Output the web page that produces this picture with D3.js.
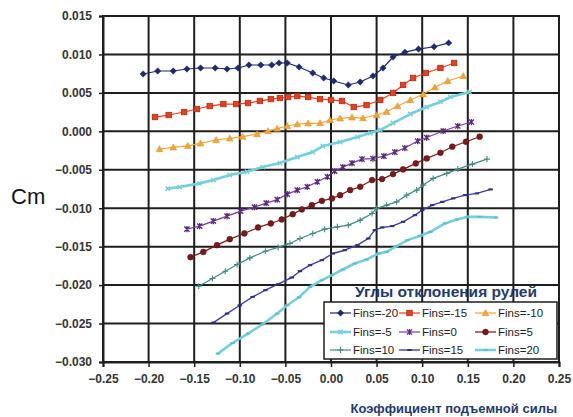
<!DOCTYPE html>
<html>
<head>
<meta charset="utf-8">
<script src="https://cdn.jsdelivr.net/npm/d3@7/dist/d3.min.js"></script>
<style>
  html, body { margin: 0; padding: 0; background: #ffffff; }
  svg { display: block; }
</style>
</head>
<body>
<script>
// Pitching-moment coefficient Cm vs lift coefficient for several fin deflections
const finAngles = [-20, -15, -10, -5, 0, 5, 10, 15, 20];
const xTicks = [-0.25, -0.20, -0.15, -0.10, -0.05, 0.00, 0.05, 0.10, 0.15, 0.20, 0.25];
const yTicks = [0.015, 0.010, 0.005, 0.000, -0.005, -0.010, -0.015, -0.020, -0.025, -0.030];

const clM20 = [-0.206,-0.190,-0.173,-0.158,-0.143,-0.127,-0.114,-0.102,-0.090,-0.077,-0.065,-0.057,-0.048,-0.035,-0.020,-0.008,0.003,0.019,0.032,0.046,0.057,0.068,0.081,0.096,0.113,0.129];
const cmM20 = [0.00746,0.00785,0.00785,0.00811,0.00824,0.00824,0.00811,0.00824,0.00863,0.00863,0.00863,0.00889,0.00889,0.00837,0.00759,0.00694,0.00655,0.00603,0.00642,0.00720,0.00824,0.00967,0.01030,0.01070,0.01100,0.01150];

const clM15 = [-0.193,-0.178,-0.161,-0.147,-0.133,-0.118,-0.104,-0.091,-0.078,-0.066,-0.056,-0.047,-0.037,-0.025,-0.012,0.000,0.012,0.025,0.039,0.054,0.068,0.079,0.090,0.104,0.120,0.135];
const cmM15 = [0.00186,0.00212,0.00251,0.00290,0.00329,0.00355,0.00355,0.00368,0.00395,0.00420,0.00433,0.00446,0.00459,0.00446,0.00420,0.00408,0.00395,0.00316,0.00342,0.00408,0.00499,0.00603,0.00694,0.00759,0.00824,0.00889];

const clM10 = [-0.188,-0.173,-0.157,-0.143,-0.126,-0.111,-0.097,-0.081,-0.069,-0.059,-0.048,-0.037,-0.025,-0.012,-0.001,0.010,0.023,0.035,0.050,0.061,0.073,0.087,0.101,0.114,0.128,0.145];
const cmM10 = [-0.00230,-0.00208,-0.00188,-0.00156,-0.00113,-0.00091,-0.00068,-0.00035,0.00004,0.00036,0.00069,0.00095,0.00104,0.00108,0.00147,0.00169,0.00182,0.00173,0.00212,0.00255,0.00329,0.00408,0.00482,0.00573,0.00655,0.00720];

const clM5 = [-0.179,-0.166,-0.144,-0.129,-0.111,-0.092,-0.075,-0.056,-0.037,-0.020,-0.009,0.010,0.029,0.043,0.054,0.068,0.087,0.105,0.120,0.131,0.152];
const cmM5 = [-0.00745,-0.00725,-0.00677,-0.00634,-0.00569,-0.00526,-0.00465,-0.00413,-0.00335,-0.00270,-0.00191,-0.00139,-0.00074,-0.00022,0.00017,0.00108,0.00225,0.00316,0.00382,0.00447,0.00512];

const clP0 = [-0.158,-0.144,-0.129,-0.114,-0.099,-0.084,-0.071,-0.059,-0.048,-0.037,-0.026,-0.015,-0.004,0.004,0.013,0.023,0.034,0.046,0.058,0.070,0.081,0.095,0.105,0.123,0.139,0.154];
const cmP0 = [-0.01272,-0.01233,-0.01168,-0.01103,-0.01038,-0.00986,-0.00933,-0.00888,-0.00816,-0.00764,-0.00721,-0.00656,-0.00591,-0.00517,-0.00465,-0.00413,-0.00361,-0.00354,-0.00322,-0.00270,-0.00217,-0.00126,-0.00081,0.00004,0.00069,0.00121];

const clP5 = [-0.154,-0.140,-0.125,-0.111,-0.095,-0.080,-0.066,-0.054,-0.042,-0.032,-0.021,-0.010,0.001,0.010,0.021,0.032,0.045,0.056,0.068,0.079,0.093,0.105,0.120,0.133,0.148,0.163];
const cmP5 = [-0.01637,-0.01568,-0.01480,-0.01402,-0.01328,-0.01250,-0.01198,-0.01146,-0.01077,-0.01016,-0.00960,-0.00904,-0.00872,-0.00830,-0.00764,-0.00721,-0.00634,-0.00621,-0.00556,-0.00495,-0.00417,-0.00352,-0.00279,-0.00200,-0.00135,-0.00070];

const clP10 = [-0.145,-0.130,-0.116,-0.103,-0.089,-0.072,-0.058,-0.045,-0.034,-0.020,-0.007,0.007,0.019,0.032,0.045,0.050,0.061,0.072,0.083,0.094,0.101,0.112,0.127,0.139,0.155,0.171];
const cmP10 = [-0.02014,-0.01914,-0.01819,-0.01732,-0.01646,-0.01559,-0.01510,-0.01458,-0.01393,-0.01328,-0.01272,-0.01242,-0.01220,-0.01155,-0.01068,-0.01003,-0.00960,-0.00917,-0.00830,-0.00764,-0.00699,-0.00612,-0.00547,-0.00491,-0.00426,-0.00361];

const clP15 = [-0.129,-0.114,-0.100,-0.086,-0.072,-0.058,-0.043,-0.034,-0.023,-0.010,0.002,0.015,0.029,0.041,0.048,0.056,0.067,0.079,0.092,0.100,0.111,0.122,0.134,0.147,0.160,0.175];
const cmP15 = [-0.02487,-0.02370,-0.02262,-0.02154,-0.02066,-0.01988,-0.01901,-0.01819,-0.01741,-0.01676,-0.01589,-0.01546,-0.01480,-0.01393,-0.01285,-0.01250,-0.01233,-0.01177,-0.01090,-0.01025,-0.00960,-0.00917,-0.00872,-0.00830,-0.00807,-0.00755];

const clP20 = [-0.124,-0.108,-0.091,-0.075,-0.059,-0.048,-0.035,-0.023,-0.010,0.001,0.013,0.026,0.039,0.052,0.061,0.072,0.084,0.098,0.109,0.125,0.138,0.150,0.163,0.181];
const cmP20 = [-0.02891,-0.02753,-0.02630,-0.02509,-0.02370,-0.02262,-0.02158,-0.02023,-0.01936,-0.01871,-0.01797,-0.01719,-0.01667,-0.01589,-0.01568,-0.01493,-0.01415,-0.01357,-0.01307,-0.01198,-0.01146,-0.01112,-0.01112,-0.01120];

const seriesX = [clM20, clM15, clM10, clM5, clP0, clP5, clP10, clP15, clP20];
const seriesY = [cmM20, cmM15, cmM10, cmM5, cmP0, cmP5, cmP10, cmP15, cmP20];

// Per-series appearance
const styles = [
  { color: "#1d2a6b", width: 1.2, marker: "diamond", size: 3.2, stroke: "#1d2a6b" },
  { color: "#e8401f", width: 1.2, marker: "square",  size: 3.2, stroke: "#b02a12" },
  { color: "#f2a638", width: 1.2, marker: "triangle",size: 3.4, stroke: "#e08a20" },
  { color: "#72d0dc", width: 2.6, marker: "times",   size: 2.2, stroke: "#72d0dc" },
  { color: "#7b3d9d", width: 1.2, marker: "star",    size: 2.6, stroke: "#5a2a78" },
  { color: "#7a1a1a", width: 1.2, marker: "circle",  size: 3.4, stroke: "#5a1010" },
  { color: "#3f8a80", width: 1.2, marker: "plus",    size: 3,   stroke: "#3f8a80" },
  { color: "#3d3fa0", width: 1.4, marker: "dash",    size: 2.2, stroke: "#2a2c80" },
  { color: "#72d0dc", width: 2.6, marker: "dash",    size: 2.2, stroke: "#5fbfcc" }
];

const W = 573, H = 417;
const plot = { left: 103, right: 559, top: 16, bottom: 362 };

const svg = d3.select("body").append("svg")
  .attr("width", W).attr("height", H)
  .style("font-family", "Arial, 'Liberation Sans', sans-serif");

svg.append("rect").attr("width", W).attr("height", H).attr("fill", "#ffffff");

const x = d3.scaleLinear().domain([-0.25, 0.25]).range([plot.left, plot.right]);
const y = d3.scaleLinear().domain([-0.030, 0.015]).range([plot.bottom, plot.top]);

// Grid
const grid = svg.append("g");
grid.selectAll("line.vx").data(xTicks).join("line")
  .attr("x1", d => x(d)).attr("x2", d => x(d))
  .attr("y1", plot.top).attr("y2", plot.bottom)
  .attr("stroke", "#1e1e1e").attr("stroke-width", 2);
grid.selectAll("line.hy").data(yTicks).join("line")
  .attr("x1", plot.left).attr("x2", plot.right)
  .attr("y1", d => y(d)).attr("y2", d => y(d))
  .attr("stroke", "#1e1e1e").attr("stroke-width", 2);

// Axes
const xAxis = d3.axisBottom(x).tickValues(xTicks).tickFormat(d3.format(".2f")).tickSize(5).tickPadding(6);
const yAxis = d3.axisLeft(y).tickValues(yTicks).tickFormat(d3.format(".3f")).tickSize(4).tickPadding(7);

const gx = svg.append("g").attr("transform", `translate(0,${plot.bottom})`).call(xAxis);
const gy = svg.append("g").attr("transform", `translate(${plot.left},0)`).call(yAxis);
[gx, gy].forEach(g => {
  g.select(".domain").attr("stroke", "#1e1e1e").attr("stroke-width", 2);
  g.selectAll(".tick line").attr("stroke", "#1e1e1e").attr("stroke-width", 1.5);
  g.selectAll("text").attr("fill", "#353535").attr("font-size", 12).attr("font-weight", "bold")
    .attr("font-family", "Arial, 'Liberation Sans', sans-serif");
});
gx.selectAll("text").attr("dy", "0.85em");

// Frame
svg.append("rect")
  .attr("x", plot.left).attr("y", plot.top)
  .attr("width", plot.right - plot.left).attr("height", plot.bottom - plot.top)
  .attr("fill", "none").attr("stroke", "#1e1e1e").attr("stroke-width", 2);

// Marker drawing
function drawMarker(g, kind, s, color, stroke) {
  switch (kind) {
    case "diamond":
      g.append("path").attr("d", `M0,${-s}L${s},0L0,${s}L${-s},0Z`).attr("fill", color).attr("stroke", stroke).attr("stroke-width", 0.5);
      break;
    case "square":
      g.append("rect").attr("x", -s * 0.85).attr("y", -s * 0.85).attr("width", s * 1.7).attr("height", s * 1.7)
        .attr("fill", color).attr("stroke", stroke).attr("stroke-width", 0.8);
      break;
    case "triangle":
      g.append("path").attr("d", `M0,${-s}L${s},${s * 0.8}L${-s},${s * 0.8}Z`).attr("fill", color).attr("stroke", stroke).attr("stroke-width", 0.5);
      break;
    case "circle":
      g.append("circle").attr("r", s * 0.85).attr("fill", color).attr("stroke", stroke).attr("stroke-width", 0.6);
      break;
    case "times":
      g.append("path").attr("d", `M${-s},${-s}L${s},${s}M${-s},${s}L${s},${-s}`).attr("stroke", stroke).attr("stroke-width", 1.3).attr("fill", "none");
      break;
    case "star":
      g.append("path").attr("d", `M${-s},${-s}L${s},${s}M${-s},${s}L${s},${-s}M0,${-s * 1.2}L0,${s * 1.2}`).attr("stroke", stroke).attr("stroke-width", 1.3).attr("fill", "none");
      break;
    case "plus":
      g.append("path").attr("d", `M${-s},0L${s},0M0,${-s}L0,${s}`).attr("stroke", stroke).attr("stroke-width", 1.1).attr("fill", "none");
      break;
    case "dash":
      g.append("path").attr("d", `M${-s},0L${s},0`).attr("stroke", stroke).attr("stroke-width", 2).attr("fill", "none");
      break;
  }
}

const line = d3.line().x(d => x(d[0])).y(d => y(d[1]));

finAngles.forEach((fa, i) => {
  const st = styles[i];
  const pts = seriesX[i].map((v, k) => [v, seriesY[i][k]]);
  const g = svg.append("g");
  g.append("path").datum(pts).attr("d", line)
    .attr("fill", "none").attr("stroke", st.color).attr("stroke-width", st.width)
    .attr("stroke-linejoin", "round").attr("stroke-linecap", "round");
  pts.forEach(p => {
    const mg = g.append("g").attr("transform", `translate(${x(p[0])},${y(p[1])})`);
    drawMarker(mg, st.marker, st.size, st.color, st.stroke);
  });
});

// Axis titles
svg.append("text").attr("x", 11).attr("y", 204)
  .attr("font-size", 22).attr("fill", "#111").text("Cm");

svg.append("text").attr("x", 557).attr("y", 413).attr("text-anchor", "end")
  .attr("font-size", 13).attr("font-weight", "bold").attr("fill", "#1f3a6e")
  .text("Коэффициент подъемной силы");

// Legend
svg.append("text").attr("x", 446).attr("y", 297).attr("text-anchor", "middle")
  .attr("font-size", 15.5).attr("font-weight", "bold").attr("fill", "#1f3a6e")
  .text("Углы отклонения рулей");

const legend = svg.append("g");
legend.append("rect").attr("x", 324).attr("y", 302).attr("width", 233).attr("height", 57)
  .attr("fill", "#ffffff").attr("stroke", "#1e1e1e").attr("stroke-width", 1.5);

const colText = [352, 421, 497];
const rowY = [313, 332, 350];
finAngles.forEach((fa, i) => {
  const st = styles[i];
  const cx = colText[i % 3], cy = rowY[Math.floor(i / 3)];
  const g = legend.append("g");
  g.append("line").attr("x1", cx - 22).attr("x2", cx - 1).attr("y1", cy).attr("y2", cy)
    .attr("stroke", st.color).attr("stroke-width", st.width);
  const mg = g.append("g").attr("transform", `translate(${cx - 11.5},${cy})`);
  drawMarker(mg, st.marker, st.size, st.color, st.stroke);
  g.append("text").attr("x", cx + 1).attr("y", cy + 4)
    .attr("font-size", 11.5).attr("fill", "#222").text(`Fins=${fa}`);
});
</script>
</body>
</html>
